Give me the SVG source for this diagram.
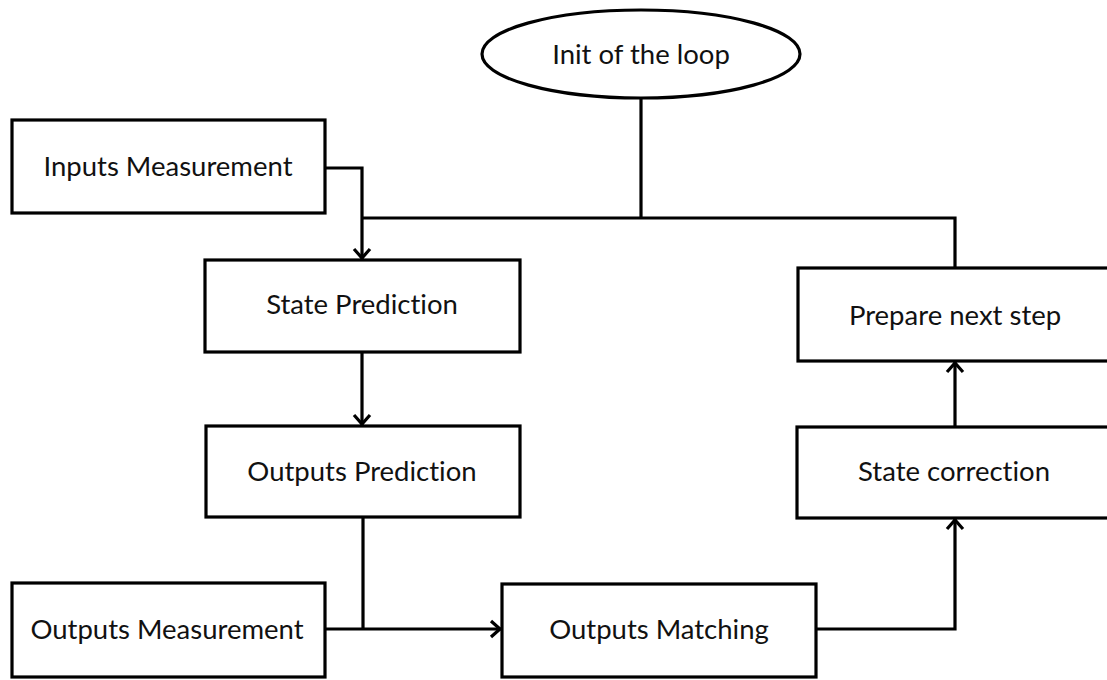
<svg xmlns="http://www.w3.org/2000/svg" width="1107" height="680" viewBox="0 0 1107 680">
  <style>
    .box { fill: #ffffff; stroke: #000000; stroke-width: 3.2; }
    .lbl { font-family: Lato, "Open Sans", "Liberation Sans", sans-serif; font-size: 27.5px; fill: #111111; text-anchor: middle; font-variant-ligatures: none; }
    .wire { fill: none; stroke: #000000; stroke-width: 3.2; }
  </style>
  <defs>
    <marker id="arrow" markerUnits="userSpaceOnUse" markerWidth="20" markerHeight="20" viewBox="0 0 20 20" refX="15" refY="10" orient="auto">
      <path d="M5,2 L14,10 L5,18" fill="none" stroke="#000000" stroke-width="3.2" stroke-linejoin="miter"/>
    </marker>
  </defs>
  <rect width="1107" height="680" fill="#ffffff"/>

  <g id="connectors">
    <!-- loop return and init joining the prediction input -->
    <path class="wire" d="M641,98 L641,218"/>
    <path class="wire" d="M955,268 L955,218 L362,218"/>
    <path class="wire" d="M325,168 L362,168 L362,259" marker-end="url(#arrow)"/>
    <path class="wire" d="M362,352 L362,425" marker-end="url(#arrow)"/>
    <path class="wire" d="M363,517 L363,629"/>
    <path class="wire" d="M325,629 L501,629" marker-end="url(#arrow)"/>
    <path class="wire" d="M816,629 L955,629 L955,519" marker-end="url(#arrow)"/>
    <path class="wire" d="M955,427 L955,362" marker-end="url(#arrow)"/>
  </g>

  <g id="init">
    <ellipse class="box" cx="641" cy="54" rx="159" ry="44"/>
    <text class="lbl" x="641" y="64">Init of the loop</text>
  </g>
  <g id="inputs-measurement">
    <rect class="box" x="12" y="120" width="313" height="93"/>
    <text class="lbl" x="168" y="176">Inputs Measurement</text>
  </g>
  <g id="state-prediction">
    <rect class="box" x="205" y="260" width="315" height="92"/>
    <text class="lbl" x="362" y="314">State Prediction</text>
  </g>
  <g id="outputs-prediction">
    <rect class="box" x="206" y="426" width="314" height="91"/>
    <text class="lbl" x="362" y="481">Outputs Prediction</text>
  </g>
  <g id="outputs-measurement">
    <rect class="box" x="12" y="583" width="313" height="94"/>
    <text class="lbl" x="167" y="639">Outputs Measurement</text>
  </g>
  <g id="outputs-matching">
    <rect class="box" x="502" y="584" width="314" height="93"/>
    <text class="lbl" x="659" y="639">Outputs Matching</text>
  </g>
  <g id="state-correction">
    <rect class="box" x="797" y="427" width="316" height="91"/>
    <text class="lbl" x="954" y="481">State correction</text>
  </g>
  <g id="prepare-next-step">
    <rect class="box" x="798" y="268" width="315" height="93"/>
    <text class="lbl" x="955" y="325">Prepare next step</text>
  </g>
</svg>
